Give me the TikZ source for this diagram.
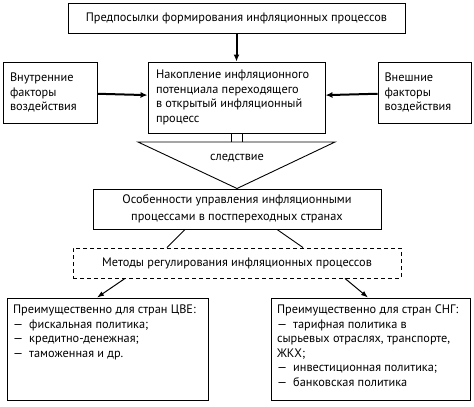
\documentclass[tikz,border=0pt]{standalone}
\usepackage{fontspec}
\setmainfont{PT Sans}
\usetikzlibrary{arrows.meta}
\begin{document}
\begin{tikzpicture}[
x=1pt, y=-1pt,
font=\fontsize{12.3}{14.5}\selectfont,
box/.style={rectangle, draw=black, line width=0.9pt, inner sep=0pt},
dbox/.style={box, dashed, dash pattern=on 4pt off 3pt},
thickarr/.style={line width=2pt, -{Latex[length=7pt,width=6pt]}},
thinarr/.style={line width=1pt, -{Latex[length=7pt,width=5pt]}},
thin/.style={line width=0.9pt},
]
\useasboundingbox (0,0) rectangle (474,407);
\node[box, minimum width=337pt, minimum height=30pt] (pre) at (236.5,18) {Предпосылки формирования инфляционных процессов};
\node[box, minimum width=177pt, minimum height=71pt] (acc) at (236.5,97.5)
  {\parbox{161pt}{\raggedright Накопление инфляционного\\потенциала переходящего\\в открытый инфляционный\\процесс}};
\node[box, minimum width=94pt, minimum height=61pt] (inn) at (50,92.5)
  {\parbox{80pt}{\raggedright Внутренние\\факторы\\воздействия}};
\node[box, minimum width=93pt, minimum height=61pt] (ext) at (424.5,92.5)
  {\parbox{80pt}{\raggedright Внешние\\факторы\\воздействия}};
\draw[thickarr] (pre) -- (acc);
\draw[thickarr] (inn) -- (acc);
\draw[thickarr] (ext) -- (acc);
\coordinate (tl) at (138,142);
\coordinate (tr) at (335,142);
\coordinate (tip) at (237,188.5);
\draw[thin] (tl) -- (tr) -- (tip) -- cycle;
\draw[thin] (acc.south -| 231,0) -- (tl -| 231,0);
\draw[thin] (acc.south -| 242,0) -- (tl -| 242,0);
\node (cons) at (237,158) {следствие};
\node[box, minimum width=288pt, minimum height=40pt, align=center, font=\fontsize{12.3}{16.5}\selectfont] (feat) at (237,209)
  {Особенности управления инфляционными\\процессами в постпереходных странах};
\node[dbox, minimum width=328pt, minimum height=30pt] (meth) at (237,263)
  {Методы регулирования инфляционных процессов};
\draw[thin] (feat.south -| 185,0) -- (meth.north -| 167,0);
\draw[thin] (feat.south -| 277,0) -- (meth.north -| 303,0);
\node[box, minimum width=201pt, minimum height=102pt] (cve) at (107.5,349)
  {\parbox[c][88pt][t]{189pt}{\raggedright Преимущественно для стран ЦВЕ:\\—\enspace фискальная политика;\\—\enspace кредитно-денежная;\\—\enspace таможенная и др.}};
\node[box, minimum width=199pt, minimum height=102pt] (sng) at (370.5,349)
  {\parbox[c][88pt][t]{187pt}{\raggedright Преимущественно для стран СНГ:\\—\enspace тарифная политика в\\сырьевых отраслях, транспорте,\\ЖКХ;\\—\enspace инвестиционная политика;\\—\enspace банковская политика}};
\draw[thinarr] (meth.south -| 125,0) -- (cve.north -| 97,0);
\draw[thinarr] (meth.south -| 345,0) -- (sng.north -| 368,0);
\end{tikzpicture}
\end{document}
